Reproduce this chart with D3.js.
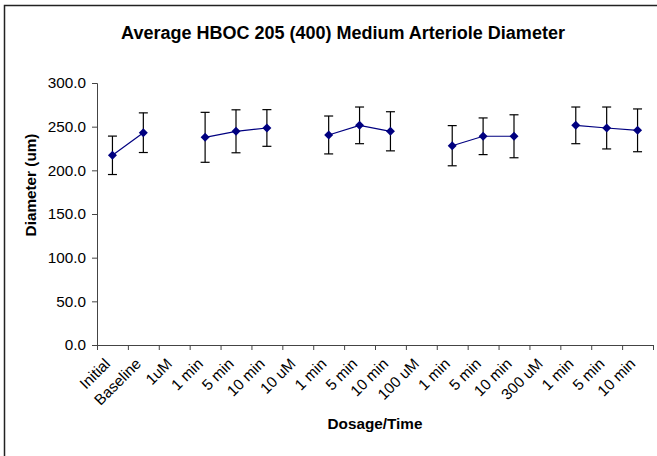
<script src="https://d3js.org/d3.v7.min.js"></script>

<style>
  body { margin: 0; background: #fff; }
  svg text { font-family: "Liberation Sans", Arial, sans-serif; }
</style>

<body>
  <div id="chart"></div>
</body>

<script>
// categories along the x axis (dose headers have no value)
var categories = ["Initial", "Baseline", "1uM", "1 min", "5 min", "10 min", "10 uM", "1 min", "5 min", "10 min",
                  "100 uM", "1 min", "5 min", "10 min", "300 uM", "1 min", "5 min", "10 min"]
// mean diameter (um), null where the dose label sits
var means = [217.2, 243.1, null, 237.8, 244.7, 248.5, null, 240.5, 251.5, 244.7,
             null, 228.2, 239.0, 239.0, null, 251.5, 248.5, 245.8]
// error bar half-length (um)
var errs = [22.0, 22.7, null, 28.6, 24.6, 21.0, null, 21.7, 21.0, 22.4,
            null, 23.0, 21.0, 24.6, null, 21.0, 24.0, 24.5]
var yTicks = [0, 50, 100, 150, 200, 250, 300]

var width = 657, height = 456
var margin = {top: 83, right: 4, bottom: 111, left: 97}

var svg = d3.select("#chart").append("svg")
  .attr("width", width)
  .attr("height", height)

// outer chart frame (only left and top edges fall inside the picture)
svg.append("path")
  .attr("d", "M4.5,456 L4.5,5.5 L657,5.5")
  .attr("fill", "none")
  .attr("stroke", "#222")
  .attr("stroke-width", 1.5)

var x = d3.scaleBand()
  .domain(d3.range(categories.length))
  .range([margin.left, width - margin.right])

var xEdge = d3.scaleLinear()
  .domain([0, categories.length])
  .range([margin.left, width - margin.right])

var y = d3.scaleLinear()
  .domain([0, 300])
  .range([height - margin.bottom, margin.top])

// y axis
var yAxis = svg.append("g")
  .attr("transform", "translate(" + margin.left + ",0)")
  .call(d3.axisLeft(y).tickValues(yTicks).tickSize(5).tickPadding(6).tickFormat(d3.format(".1f")))
yAxis.selectAll("text").attr("font-size", 15.3).attr("fill", "#000").style("font-family", "Liberation Sans, Arial")
yAxis.selectAll("line, path").attr("stroke", "#444")

// x axis: ticks on category boundaries
var xAxis = svg.append("g")
  .attr("transform", "translate(0," + (height - margin.bottom) + ")")
  .call(d3.axisBottom(xEdge).tickValues(d3.range(categories.length + 1)).tickSize(5).tickSizeOuter(0).tickFormat(""))
xAxis.selectAll("line, path").attr("stroke", "#444")

// rotated category labels
svg.append("g").selectAll("text")
  .data(categories)
  .enter()
  .append("text")
  .attr("transform", function(d, i) {
    return "translate(" + (x(i) + x.bandwidth() / 2 - 5) + "," + (height - margin.bottom + 16) + ") rotate(-45)"
  })
  .attr("text-anchor", "end")
  .attr("dy", "0.35em")
  .attr("font-size", 15.3)
  .text(function(d) { return d })

var pts = means.map(function(m, i) { return {i: i, m: m, e: errs[i]} })
var valid = pts.filter(function(d) { return d.m != null })

// error bars
var eb = svg.append("g").selectAll("g")
  .data(valid)
  .enter()
  .append("g")
  .attr("stroke", "#000")
  .attr("stroke-width", 1.2)

eb.append("line")
  .attr("x1", function(d) { return x(d.i) + x.bandwidth() / 2 })
  .attr("x2", function(d) { return x(d.i) + x.bandwidth() / 2 })
  .attr("y1", function(d) { return y(d.m - d.e) })
  .attr("y2", function(d) { return y(d.m + d.e) })
eb.append("line")
  .attr("x1", function(d) { return x(d.i) + x.bandwidth() / 2 - 4.5 })
  .attr("x2", function(d) { return x(d.i) + x.bandwidth() / 2 + 4.5 })
  .attr("y1", function(d) { return y(d.m + d.e) })
  .attr("y2", function(d) { return y(d.m + d.e) })
eb.append("line")
  .attr("x1", function(d) { return x(d.i) + x.bandwidth() / 2 - 4.5 })
  .attr("x2", function(d) { return x(d.i) + x.bandwidth() / 2 + 4.5 })
  .attr("y1", function(d) { return y(d.m - d.e) })
  .attr("y2", function(d) { return y(d.m - d.e) })

// line broken at the dose headers
var line = d3.line()
  .defined(function(d) { return d.m != null })
  .x(function(d) { return x(d.i) + x.bandwidth() / 2 })
  .y(function(d) { return y(d.m) })

svg.append("path")
  .datum(pts)
  .attr("d", line)
  .attr("fill", "none")
  .attr("stroke", "#000080")
  .attr("stroke-width", 1.2)

// diamond markers
svg.append("g").selectAll("path")
  .data(valid)
  .enter()
  .append("path")
  .attr("d", "M0,-4.5 L4.5,0 L0,4.5 L-4.5,0 Z")
  .attr("transform", function(d) { return "translate(" + (x(d.i) + x.bandwidth() / 2) + "," + y(d.m) + ")" })
  .attr("fill", "#000080")

// titles
svg.append("text")
  .attr("x", 343)
  .attr("y", 39)
  .attr("text-anchor", "middle")
  .attr("font-size", 18)
  .attr("font-weight", "bold")
  .text("Average HBOC 205 (400) Medium Arteriole Diameter")

svg.append("text")
  .attr("x", (margin.left + width - margin.right) / 2)
  .attr("y", 429)
  .attr("text-anchor", "middle")
  .attr("font-size", 15.3)
  .attr("font-weight", "bold")
  .text("Dosage/Time")

svg.append("text")
  .attr("transform", "translate(36,185) rotate(-90)")
  .attr("text-anchor", "middle")
  .attr("font-size", 15.3)
  .attr("font-weight", "bold")
  .text("Diameter (um)")
</script>
